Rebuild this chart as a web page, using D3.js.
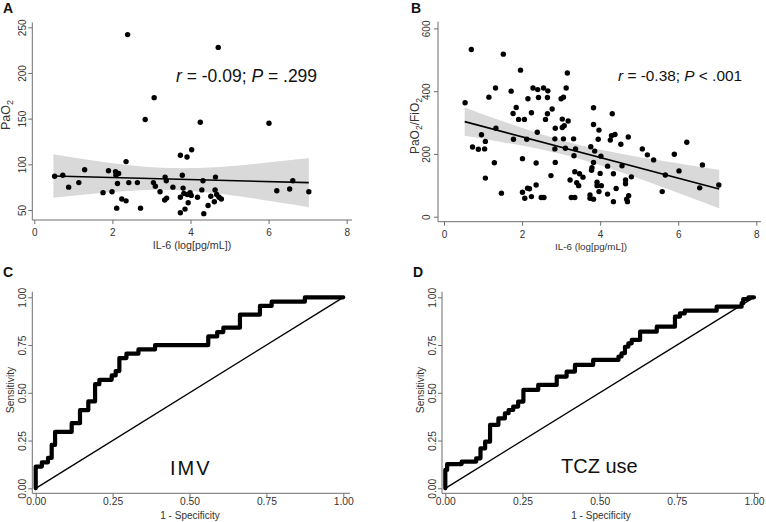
<!DOCTYPE html>
<html><head><meta charset="utf-8">
<script src="https://cdn.jsdelivr.net/npm/d3@7"></script>
<style>body{margin:0;background:#fff}svg{display:block;font-family:"Liberation Sans",Arial,sans-serif}</style>
</head><body><svg id="c" width="766" height="522"></svg>
<script>
// ---------- Panel A data ----------
const aIL6 = [0.52,0.73,0.88,1.14,1.29,1.76,1.90,1.99,2.08,2.09,2.16,2.13,2.35,2.24,2.35,2.11,2.39,2.42,2.64,2.72,2.84,3.07,3.05,3.10,3.22,3.34,3.39,3.35,3.38,3.55,3.74,3.91,4.03,3.79,3.74,3.81,3.83,3.92,3.99,4.02,3.94,3.86,3.74,4.18,4.25,4.29,4.32,4.34,4.45,4.52,4.61,4.63,4.64,4.67,4.71,4.73,4.79,6.01,6.21,6.54,6.62,7.03];
const aPaO2 = [87,88,75,80,94,69,93,70,92,88,90,79,103,62,60,52,242,80,80,52,149,173,80,76,70,61,63,86,82,75,110,108,116,88,64,74,68,67,69,66,58,51,47,64,146,72,82,46,55,65,59,72,86,67,228,64,62,145,71,73,82,70];
const aFitX = [0.49, 7.03];
const aFitY = [87.2, 80.0];
const aBandX  = [0.49, 1.5, 2.5, 3.5, 4.5, 5.5, 6.5, 7.03];
const aBandLo = [63.4, 67.9, 71.2, 71.9, 69.0, 63.5, 56.8, 53.0];
const aBandHi = [111.0, 104.3, 98.8, 95.9, 96.6, 99.9, 104.4, 107.0];
const aYTicks = [50, 100, 150, 200, 250];

// ---------- Panel B data ----------
const bIL6 = [0.54,0.70,0.73,0.88,0.96,1.04,1.06,1.06,1.15,1.32,1.33,1.29,1.47,1.52,1.72,1.77,1.78,1.85,1.91,1.96,2.01,2.01,2.06,2.07,2.12,2.14,2.15,2.19,2.24,2.24,
  2.28,2.40,2.55,2.66,2.42,2.65,3.00,3.06,3.13,3.16,2.77,2.65,2.60,3.03,3.18,3.03,3.08,2.85,2.39,2.84,3.06,3.32,2.84,3.11,3.37,3.33,2.36,2.85,2.74,3.35,3.47,3.56,3.23,3.40,3.45,3.26,3.35,2.49,2.56,2.36,
  3.83,4.31,3.83,3.97,3.95,4.29,4.38,4.26,4.72,4.53,5.08,5.21,3.76,3.86,4.02,3.83,4.19,4.56,3.79,3.78,4.00,4.34,4.80,4.65,4.65,3.92,3.92,4.03,4.41,3.97,3.74,4.19,4.73,4.68,4.70,4.34,3.74,3.83,5.37,5.90,6.22,5.67,6.02,6.62,5.59,6.55,7.04];
const bRatio = [363,533,222,215,261,216,240,123,381,410,282,172,75,518,400,329,247,348,310,467,185,78,310,59,247,91,376,89,331,64,
  410,405,410,401,380,380,376,381,410,458,343,328,310,311,305,284,290,282,269,248,248,248,216,218,216,194,171,173,131,143,137,126,117,108,99,61,61,61,61,101,
  347,328,294,276,247,258,262,244,254,231,216,197,223,209,193,173,161,162,156,148,138,137,127,117,105,110,99,99,90,80,69,72,67,56,48,48,59,56,181,199,237,133,146,165,80,92,101];
const bFitX = [0.53, 7.05];
const bFitY = [303, 88];
const bBandX  = [0.53, 1.5, 2.5, 3.5, 4.5, 5.5, 6.5, 7.05];
const bBandLo = [257.8, 237.6, 213.8, 182.7, 143.0, 98.7, 52.6, 27];
const bBandHi = [348.2, 304.4, 262.4, 227.5, 201.4, 179.7, 159.8, 149];
const bYTicks = [0, 200, 400, 600];

const il6Ticks = [0, 2, 4, 6, 8];

// ---------- Panel C (IMV ROC) ----------
const cFpr = [0,0,0.02,0.02,0.04,0.04,0.052,0.052,0.063,0.063,0.117,0.117,0.144,0.144,0.171,0.171,0.193,0.193,0.207,0.207,0.247,0.247,0.26,0.26,0.272,0.272,0.295,0.295,0.334,0.334,0.388,0.388,0.561,0.561,0.59,0.59,0.61,0.61,0.664,0.664,0.729,0.729,0.767,0.767,0.875,0.875,1];
const cTpr = [0,0.114,0.114,0.136,0.136,0.159,0.159,0.227,0.227,0.295,0.295,0.341,0.341,0.409,0.409,0.455,0.455,0.545,0.545,0.568,0.568,0.591,0.591,0.614,0.614,0.682,0.682,0.705,0.705,0.727,0.727,0.75,0.75,0.795,0.795,0.818,0.818,0.841,0.841,0.909,0.909,0.955,0.955,0.977,0.977,1,1];

// ---------- Panel D (TCZ use ROC) ----------
const dFpr = [0,0,0.006,0.006,0.053,0.053,0.10,0.10,0.114,0.114,0.129,0.129,0.145,0.145,0.172,0.172,0.193,0.193,0.205,0.205,0.22,0.22,0.236,0.236,0.253,0.253,0.301,0.301,0.361,0.361,0.393,0.393,0.42,0.42,0.479,0.479,0.561,0.561,0.571,0.571,0.582,0.582,0.593,0.593,0.604,0.604,0.631,0.631,0.685,0.685,0.744,0.744,0.76,0.76,0.776,0.776,0.879,0.879,0.96,0.96,0.965,0.965,0.982,0.982,1];
const dTpr = [0,0.096,0.096,0.127,0.127,0.14,0.14,0.157,0.157,0.209,0.209,0.244,0.244,0.332,0.332,0.366,0.366,0.393,0.393,0.41,0.41,0.428,0.428,0.454,0.454,0.515,0.515,0.541,0.541,0.585,0.585,0.611,0.611,0.646,0.646,0.672,0.672,0.69,0.69,0.707,0.707,0.741,0.741,0.759,0.759,0.777,0.777,0.82,0.82,0.846,0.846,0.899,0.899,0.916,0.916,0.93,0.93,0.951,0.951,0.969,0.969,0.99,0.99,1,1];
const rocTicks = [0, 0.25, 0.5, 0.75, 1];
const diagX = [0, 1], diagY = [0, 1];

const svg = d3.select('#c');
const AXC = '#6e6e6e', TXC = '#333';

function axes(o, x, y, yTickVals, xTickVals, fmt) {
  const g = svg.append('g');
  const ya = g.append('g').attr('transform', `translate(${o.axX},0)`)
    .call(d3.axisLeft(y).tickValues(yTickVals).tickSize(4).tickSizeOuter(0).tickFormat(fmt));
  ya.select('.domain').remove();
  ya.selectAll('line').attr('stroke', AXC);
  ya.selectAll('text').attr('transform', 'rotate(-90)').attr('x', 0).attr('y', -o.yLabOff)
    .attr('dy', null).attr('dominant-baseline', 'central').attr('text-anchor', 'middle')
    .attr('fill', TXC).attr('font-size', o.tickFs).attr('font-family', '"Liberation Sans",Arial,sans-serif');
  g.append('line').attr('x1', o.axX).attr('x2', o.axX).attr('y1', o.top).attr('y2', o.axY).attr('stroke', AXC);
  const xa = g.append('g').attr('transform', `translate(0,${o.axY})`)
    .call(d3.axisBottom(x).tickValues(xTickVals).tickSize(4).tickSizeOuter(0).tickFormat(fmt));
  xa.select('.domain').remove();
  xa.selectAll('line').attr('stroke', AXC);
  xa.selectAll('text').attr('y', o.xLabOff).attr('dy', null).attr('dominant-baseline', 'central')
    .attr('fill', TXC).attr('font-size', o.tickFs).attr('font-family', '"Liberation Sans",Arial,sans-serif');
  g.append('line').attr('x1', o.axX).attr('x2', o.right).attr('y1', o.axY).attr('y2', o.axY).attr('stroke', AXC);
  svg.append('text').attr('x', o.xtX).attr('y', o.xtY).attr('text-anchor', 'middle')
    .attr('dominant-baseline', 'central').attr('font-size', o.xtFs).attr('fill', TXC).text(o.xTitle);
}

function panelLetter(t, x, y) {
  svg.append('text').attr('x', x).attr('y', y).attr('font-size', 14).attr('font-weight', 'bold')
    .attr('fill', '#111').text(t);
}

function scatter(o, xs, ys, fx, fy, bx, blo, bhi, yTicks) {
  const x = d3.scaleLinear().domain([0, 8]).range([o.x0, o.x8]);
  const y = d3.scaleLinear().domain(o.yDom).range(o.yRng);
  const idx = d3.range(bx.length);
  svg.append('path').datum(idx)
    .attr('d', d3.area().x(i => x(bx[i])).y0(i => y(blo[i])).y1(i => y(bhi[i])).curve(d3.curveNatural))
    .attr('fill', '#d9d9d9');
  axes(o, x, y, yTicks, il6Ticks, d3.format('d'));
  svg.append('g').selectAll('circle').data(d3.range(xs.length)).join('circle')
    .attr('cx', i => x(xs[i])).attr('cy', i => y(ys[i])).attr('r', 2.7).attr('fill', '#000');
  svg.append('path').datum(d3.range(fx.length))
    .attr('d', d3.line().x(i => x(fx[i])).y(i => y(fy[i])))
    .attr('stroke', '#000').attr('stroke-width', 1.6).attr('fill', 'none');
  return {x, y};
}

// ----- Panel A -----
scatter({x0: 34.3, x8: 346.7, yDom: [50, 250], yRng: [210, 27.3], axX: 32.3, axY: 220, top: 22.5, right: 352,
  yLabOff: 9.8, xLabOff: 12, tickFs: 10, xtX: 192, xtY: 245, xtFs: 10.7, xTitle: 'IL-6 (log[pg/mL])'},
  aIL6, aPaO2, aFitX, aFitY, aBandX, aBandLo, aBandHi, aYTicks);
{
  const t = svg.append('text').attr('transform', 'translate(10,115) rotate(-90)').attr('text-anchor', 'middle')
    .attr('font-size', 12.5).attr('fill', TXC);
  t.append('tspan').text('PaO');
  t.append('tspan').attr('dy', 3).attr('font-size', 9).text('2');
}
{
  const t = svg.append('text').attr('x', 176).attr('y', 81.5).attr('font-size', 17.5).attr('fill', '#111');
  t.append('tspan').attr('font-style', 'italic').text('r');
  t.append('tspan').text(' = -0.09; ');
  t.append('tspan').attr('font-style', 'italic').text('P');
  t.append('tspan').text(' = .299');
}
panelLetter('A', 3, 13);

// ----- Panel B -----
scatter({x0: 444, x8: 756.3, yDom: [0, 600], yRng: [216.7, 28.4], axX: 438, axY: 221.7, top: 21.7, right: 761,
  yLabOff: 11.5, xLabOff: 13, tickFs: 10, xtX: 591, xtY: 246.5, xtFs: 9.8, xTitle: 'IL-6 (log[pg/mL])'},
  bIL6, bRatio, bFitX, bFitY, bBandX, bBandLo, bBandHi, bYTicks);
{
  const t = svg.append('text').attr('transform', 'translate(419,126) rotate(-90)').attr('text-anchor', 'middle')
    .attr('font-size', 12).attr('fill', TXC);
  t.append('tspan').text('PaO');
  t.append('tspan').attr('dy', 2.5).attr('font-size', 8.5).text('2');
  t.append('tspan').attr('dy', -2.5).text('/FiO');
  t.append('tspan').attr('dy', 2.5).attr('font-size', 8.5).text('2');
}
{
  const t = svg.append('text').attr('x', 618).attr('y', 80.7).attr('font-size', 15.4).attr('fill', '#111');
  t.append('tspan').attr('font-style', 'italic').text('r');
  t.append('tspan').text(' = -0.38; ');
  t.append('tspan').attr('font-style', 'italic').text('P');
  t.append('tspan').text(' < .001');
}
panelLetter('B', 411, 13);

// ----- ROC panels -----
function roc(o, fpr, tpr, label, lx, ly, lsp) {
  const x = d3.scaleLinear().domain([0, 1]).range([o.x0, o.x1]);
  const y = d3.scaleLinear().domain([0, 1]).range([o.y0, o.y1]);
  axes(o, x, y, rocTicks, rocTicks, d3.format('.2f'));
  svg.append('path').datum(d3.range(diagX.length))
    .attr('d', d3.line().x(i => x(diagX[i])).y(i => y(diagY[i])))
    .attr('stroke', '#000').attr('stroke-width', 1.4).attr('fill', 'none');
  const idx = d3.range(fpr.length);
  svg.append('path').datum(idx)
    .attr('d', d3.line().x(i => x(fpr[i])).y(i => y(tpr[i])))
    .attr('stroke', '#000').attr('stroke-width', 4.2).attr('stroke-linejoin', 'round').attr('stroke-linecap', 'round')
    .attr('fill', 'none');
  svg.append('text').attr('transform', `translate(${o.stX},${o.stY}) rotate(-90)`).attr('text-anchor', 'middle')
    .attr('dominant-baseline', 'central').attr('font-size', 10.3).attr('fill', TXC).text('Sensitivity');
  svg.append('text').attr('x', lx).attr('y', ly).attr('font-size', 20).attr('letter-spacing', lsp)
    .attr('fill', '#111').text(label);
}

roc({x0: 35.7, x1: 343.3, y0: 488.3, y1: 297.3, axX: 32.3, axY: 493.3, top: 291.7, right: 350,
  yLabOff: 10, xLabOff: 8, tickFs: 10.3, xtX: 190, xtY: 515.5, xtFs: 10, xTitle: '1 - Specificity', stX: 10, stY: 390},
  cFpr, cTpr, 'IMV', 170, 475, 2);
panelLetter('C', 3, 277);

roc({x0: 445.3, x1: 754, y0: 488.3, y1: 297.3, axX: 442, axY: 493.3, top: 291.7, right: 759,
  yLabOff: 9.5, xLabOff: 8, tickFs: 10.3, xtX: 601, xtY: 515.5, xtFs: 10, xTitle: '1 - Specificity', stX: 420, stY: 390},
  dFpr, dTpr, 'TCZ use', 561, 473.3, 0);
panelLetter('D', 413, 277);
</script></body></html>
